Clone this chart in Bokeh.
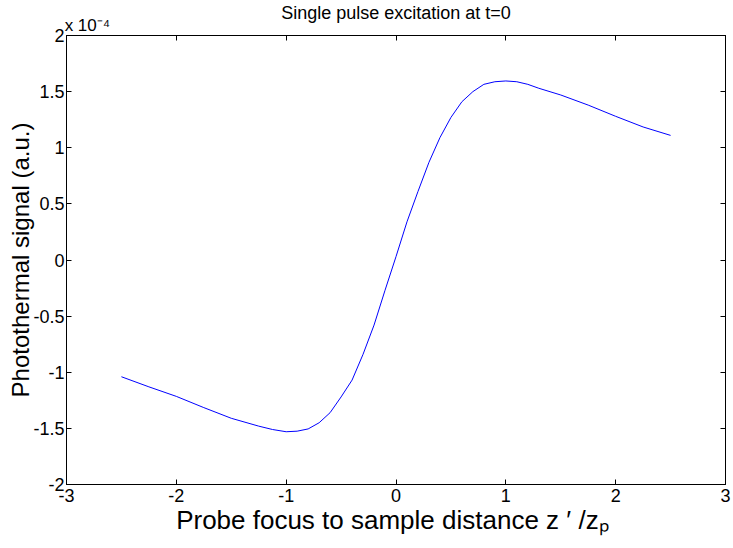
from bokeh.plotting import figure
from bokeh.models import LinearAxis, FixedTicker, Range1d
from bokeh.embed import file_html
from bokeh.resources import INLINE

# ---- data (signal in units of 1e-4) ----
z_norm = [-2.5, -2.25, -2.0, -1.75, -1.5, -1.25, -1.125, -1.0, -0.9, -0.8, -0.7, -0.6, -0.5,
          -0.4, -0.3, -0.2, -0.1, 0.0, 0.1, 0.2, 0.3, 0.4, 0.5, 0.6, 0.7, 0.8,
          0.9, 1.0, 1.1, 1.2, 1.3, 1.5, 1.75, 2.0, 2.25, 2.5]
signal_e4 = [-1.04, -1.13, -1.215, -1.315, -1.41, -1.48, -1.51, -1.53, -1.525, -1.505, -1.45, -1.36, -1.22,
             -1.07, -0.84, -0.58, -0.27, 0.03, 0.34, 0.61, 0.87, 1.09, 1.27, 1.41, 1.50, 1.565,
             1.588, 1.595, 1.588, 1.565, 1.53, 1.47, 1.38, 1.28, 1.185, 1.11]

x_ticks = [-3, -2, -1, 0, 1, 2, 3]
x_tick_labels = ["-3", "-2", "-1", "0", "1", "2", "3"]
y_ticks = [-2, -1.5, -1, -0.5, 0, 0.5, 1, 1.5, 2]
y_tick_labels = ["-2", "-1.5", "-1", "-0.5", "0", "0.5", "1", "1.5", "2"]
exponent_text = "x 10\u207b\u2074"
exponent_pos = [-2.81]

FONT = "Liberation Sans"

p = figure(width=733, height=548, output_backend="svg", toolbar_location=None,
           x_range=Range1d(-3, 3), y_range=Range1d(-2, 2),
           min_border_left=66, min_border_right=8, min_border_top=35, min_border_bottom=64,
           title="Single pulse excitation at t=0")
p.title.align = "center"
p.title.text_font = FONT
p.title.text_font_size = "18px"
p.title.text_font_style = "normal"
p.title.text_color = "black"
p.title.standoff = -20

p.background_fill_color = "white"
p.border_fill_color = "white"
p.outline_line_color = "black"
p.outline_line_width = 1
p.xgrid.grid_line_color = None
p.ygrid.grid_line_color = None

p.line(z_norm, signal_e4, line_color="#0000ff", line_width=1)

def style(ax, ticks, labels, show):
    ax.ticker = FixedTicker(ticks=ticks)
    ax.major_label_overrides = {t: (l if show else "") for t, l in zip(ticks, labels)}
    ax.major_tick_in = 5
    ax.major_tick_out = 0
    ax.minor_tick_line_color = None
    ax.axis_line_color = "black"
    ax.major_tick_line_color = "black"
    ax.major_label_text_font = FONT
    ax.major_label_text_font_size = "18px" if show else "1px"
    ax.major_label_text_color = "black"
    ax.major_label_standoff = 2 if show else 0

style(p.xaxis[0], x_ticks, x_tick_labels, True)
style(p.yaxis[0], y_ticks, y_tick_labels, True)
p.xaxis[0].major_label_standoff = 4

p.xaxis[0].axis_label = "Probe focus to sample distance z  \u2032 /z\u209a"
p.yaxis[0].axis_label = "Photothermal signal (a.u.)"
for ax in (p.xaxis[0], p.yaxis[0]):
    ax.axis_label_text_font = FONT
    ax.axis_label_text_font_style = "normal"
    ax.axis_label_text_color = "black"
p.xaxis[0].axis_label_text_font_size = "26px"
p.yaxis[0].axis_label_text_font_size = "24px"
p.xaxis[0].axis_label_standoff = 0
p.yaxis[0].axis_label_standoff = -4

top_ax = LinearAxis()
right_ax = LinearAxis()
style(top_ax, x_ticks, x_tick_labels, False)
style(right_ax, y_ticks, y_tick_labels, False)
p.add_layout(top_ax, "above")
p.add_layout(right_ax, "right")

# exponent marker of the y axis, drawn as a tick label above the frame
exp_ax = LinearAxis(ticker=FixedTicker(ticks=exponent_pos),
                    major_label_overrides={exponent_pos[0]: exponent_text})
exp_ax.axis_line_color = None
exp_ax.major_tick_line_color = None
exp_ax.minor_tick_line_color = None
exp_ax.major_tick_in = 0
exp_ax.major_tick_out = 0
exp_ax.major_label_standoff = 1
exp_ax.major_label_text_font = FONT
exp_ax.major_label_text_font_size = "17px"
exp_ax.major_label_text_color = "black"
p.add_layout(exp_ax, "above")

open("out.html", "w").write(file_html(p, INLINE))
